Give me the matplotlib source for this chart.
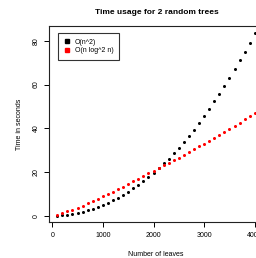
import matplotlib
matplotlib.use("Agg")
import matplotlib.pyplot as plt
from matplotlib.lines import Line2D

plt.rcParams['font.family'] = ['Liberation Sans', 'DejaVu Sans']

# number of leaves
leaves = list(range(100, 4001, 100))

# O(n^2) timings (seconds)
quad_times = [0.05, 0.2, 0.45, 0.8, 1.25, 1.8, 2.4, 3.1, 4.0, 4.9,
              5.9, 7.0, 8.3, 9.6, 11.0, 12.5, 14.2, 15.9, 17.7, 19.6,
              21.7, 23.9, 26.1, 28.5, 31.0, 33.6, 36.3, 39.2, 42.5, 45.7,
              48.9, 52.3, 55.8, 59.4, 63.2, 67.0, 71.0, 75.0, 79.2, 83.5]

# O(n log^2 n) timings (seconds)
nlog_times = [0.5, 1.2, 2.0, 2.8, 3.7, 4.6, 5.6, 6.6, 7.7, 8.8,
              9.9, 11.0, 12.1, 13.3, 14.5, 15.7, 16.9, 18.1, 19.4, 20.6,
              21.8, 23.0, 24.2, 25.4, 26.6, 27.9, 29.1, 30.4, 31.7, 33.0,
              34.3, 35.6, 37.0, 38.4, 39.8, 41.2, 42.6, 44.0, 45.5, 47.0]

series_labels = ["O(n^2)", "O(n log^2 n)"]
series_colors = ["black", "red"]

fig = plt.figure(figsize=(2.56, 2.58), dpi=100)
ax = fig.add_axes([0.193, 0.1376, 0.833, 0.762])

ax.plot(leaves, quad_times, 'o', color=series_colors[0], markersize=2.2, markeredgewidth=0)
ax.plot(leaves, nlog_times, 'o', color=series_colors[1], markersize=2.2, markeredgewidth=0)

ax.set_xlim(-56, 4156)
ax.set_ylim(-3.1, 86.8)
ax.set_xticks([0, 1000, 2000, 3000, 4000])
ax.set_yticks([0, 20, 40, 60, 80])

for s in ax.spines.values():
    s.set_linewidth(0.8)
    s.set_color("#222222")
ax.tick_params(direction='out', length=3.6, width=0.7, labelsize=5, pad=3.5)
for lbl in ax.get_yticklabels():
    lbl.set_rotation(90)
    lbl.set_va('center')

ax.set_xlabel("Number of leaves", fontsize=5)
ax.xaxis.set_label_coords(0.5, -0.143)
ax.set_ylabel("Time in seconds", fontsize=5)
ax.yaxis.set_label_coords(-0.124, 0.5)

fig.text(157/256, 1 - 13/258, "Time usage for 2 random trees", fontsize=6,
         fontweight='bold', ha='center', va='center')

handles = [Line2D([], [], marker='s', linestyle='none', color=c, markersize=3)
           for c in series_colors]
leg = ax.legend(handles, series_labels, loc='upper left',
                bbox_to_anchor=(58/256, 1 - 33/258), bbox_transform=fig.transFigure,
                borderaxespad=0, fontsize=5, frameon=True, fancybox=False,
                handlelength=1.0, handletextpad=0.6, borderpad=0.8, labelspacing=0.25)
leg.get_frame().set_edgecolor('black')
leg.get_frame().set_linewidth(0.8)

fig.savefig("out.png", dpi=100)
